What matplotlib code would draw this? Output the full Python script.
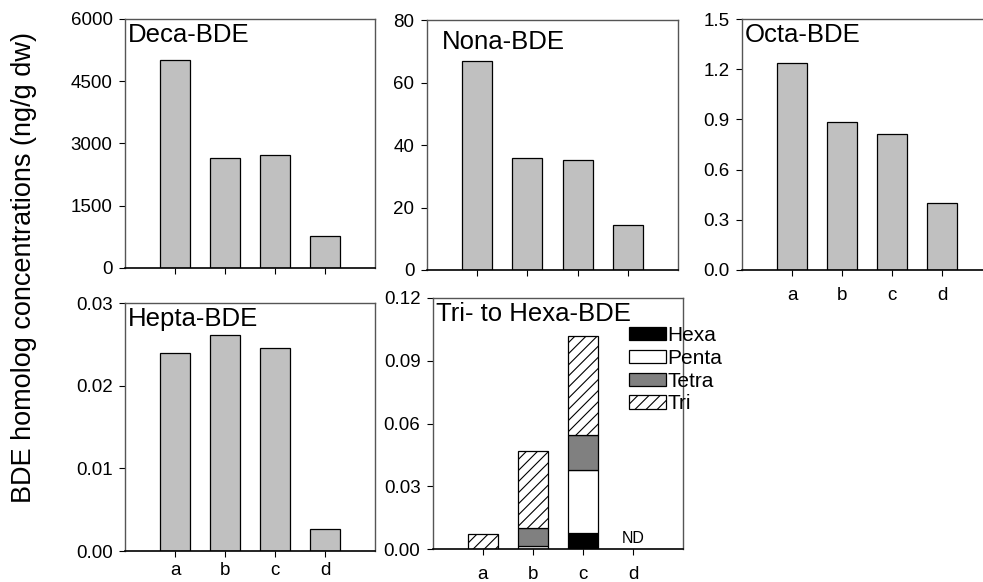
import matplotlib
matplotlib.use("Agg")
import matplotlib.pyplot as plt
import numpy as np
from matplotlib.patches import Patch

plt.rcParams['font.family'] = ['Liberation Sans', 'DejaVu Sans']
plt.rcParams['hatch.linewidth'] = 0.8

sites = ['a', 'b', 'c', 'd']
deca = [5010, 2640, 2715, 780]
nona = [66.9, 35.7, 35.3, 14.3]
octa = [1.235, 0.886, 0.812, 0.403]
hepta = [0.0240, 0.0261, 0.0246, 0.00266]

hexa = [0.0, 0.0, 0.0078, 0.0]
penta = [0.0, 0.0016, 0.0300, 0.0]
tetra = [0.0, 0.0084, 0.0167, 0.0]
tri = [0.0073, 0.0370, 0.0472, 0.0]

W, H = 983, 582
fig = plt.figure(figsize=(W / 100, H / 100), dpi=100)


def make_ax(left, right, top, bottom):
    return fig.add_axes([left / W, 1 - bottom / H, (right - left) / W, (bottom - top) / H])


x = np.arange(1, 5)


def style(ax, ymax, yticks, yfmt, title, show_labels, tx=0.012, ty=0.985, xpad=8):
    ax.set_xlim(0, 5)
    ax.set_ylim(0, ymax)
    ax.set_yticks(yticks)
    ax.set_yticklabels([yfmt.format(v) for v in yticks])
    ax.set_xticks(x)
    if show_labels:
        ax.set_xticklabels(sites)
    else:
        ax.set_xticklabels([])
    ax.tick_params(axis='both', direction='out', length=4, width=0.8, labelsize=13.5, pad=5)
    ax.tick_params(axis='x', pad=xpad)
    for s in ['top', 'right', 'left']:
        ax.spines[s].set_color('#555555')
        ax.spines[s].set_linewidth(1.0)
    ax.spines['bottom'].set_color('black')
    ax.spines['bottom'].set_linewidth(1.2)
    ax.text(tx, ty, title, transform=ax.transAxes, ha='left', va='top', fontsize=18.5)


bar_kw = dict(width=0.6, color='#c0c0c0', edgecolor='black', linewidth=0.9)

ax1 = make_ax(125, 375, 19, 268)
ax1.bar(x, deca, **bar_kw)
style(ax1, 6000, [0, 1500, 3000, 4500, 6000], '{:.0f}', 'Deca-BDE', False)

ax2 = make_ax(427, 678, 20, 270)
ax2.bar(x, nona, **bar_kw)
style(ax2, 80, [0, 20, 40, 60, 80], '{:.0f}', 'Nona-BDE', False, tx=0.06, ty=0.96)

ax3 = make_ax(742, 992, 19, 270)
ax3.bar(x, octa, **bar_kw)
style(ax3, 1.5, [0.0, 0.3, 0.6, 0.9, 1.2, 1.5], '{:.1f}', 'Octa-BDE', True)

ax4 = make_ax(125, 375, 303, 551)
ax4.bar(x, hepta, **bar_kw)
style(ax4, 0.03, [0.0, 0.01, 0.02, 0.03], '{:.2f}', 'Hepta-BDE', True, xpad=4)

ax5 = make_ax(433, 683, 298, 549)
seg_kw = dict(width=0.6, edgecolor='black', linewidth=0.9)
b0 = np.zeros(4)
ax5.bar(x[:3], hexa[:3], bottom=b0[:3], color='black', **seg_kw)
b1 = b0 + np.array(hexa)
ax5.bar(x[:3], penta[:3], bottom=b1[:3], color='white', **seg_kw)
b2 = b1 + np.array(penta)
ax5.bar(x[:3], tetra[:3], bottom=b2[:3], color='#808080', **seg_kw)
b3 = b2 + np.array(tetra)
ax5.bar(x[:3], tri[:3], bottom=b3[:3], color='white', hatch='///', **seg_kw)
style(ax5, 0.12, [0.0, 0.03, 0.06, 0.09, 0.12], '{:.2f}', 'Tri- to Hexa-BDE', True)
ax5.text(x[3], 0.0015, 'ND', ha='center', va='bottom', fontsize=11.5)

handles = [Patch(facecolor='black', edgecolor='black', linewidth=0.9),
           Patch(facecolor='white', edgecolor='black', linewidth=0.9),
           Patch(facecolor='#808080', edgecolor='black', linewidth=0.9),
           Patch(facecolor='white', edgecolor='black', linewidth=0.9, hatch='///')]
fig.legend(handles, ['Hexa', 'Penta', 'Tetra', 'Tri'], loc='upper left',
           bbox_to_anchor=(625 / W, 1 - 322 / H), frameon=False, fontsize=15,
           handlelength=1.75, handleheight=0.6, labelspacing=0.18,
           handletextpad=0.1, borderpad=0.2, borderaxespad=0)

fig.text(24 / W, 1 - 268 / H, 'BDE homolog concentrations (ng/g dw)', rotation=90,
         ha='center', va='center', fontsize=19.5)

fig.savefig('out.png', dpi=100)
